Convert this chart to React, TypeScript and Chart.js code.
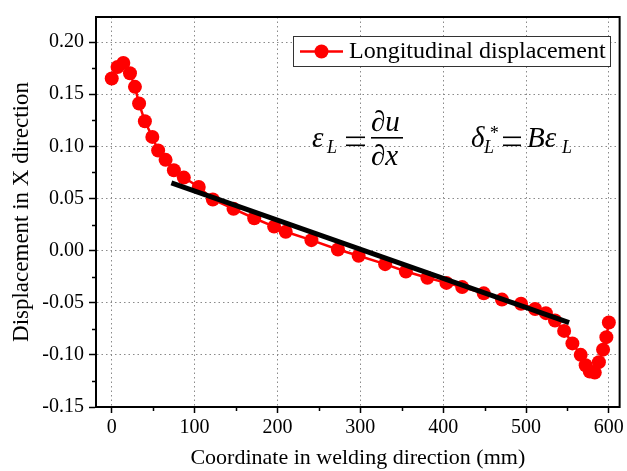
import React, { useEffect, useRef } from "react";
import { Chart, registerables } from "chart.js";

Chart.register(...registerables);

const seriesLabel = "Longitudinal displacement";
const xValues = [0, 7, 14, 22, 28, 33, 40, 49, 56, 65, 75, 87, 105, 122, 147, 172, 196, 210, 241, 273, 298, 330, 355, 381, 404, 423, 449, 471, 494, 511, 524, 535, 546, 556, 566, 572, 577, 583, 588, 593, 597, 600];
const yValues = [0.165, 0.176, 0.18, 0.17, 0.157, 0.141, 0.124, 0.109, 0.096, 0.087, 0.077, 0.07, 0.061, 0.049, 0.04, 0.031, 0.023, 0.018, 0.01, 0.001, -0.005, -0.013, -0.02, -0.026, -0.031, -0.035, -0.041, -0.047, -0.051, -0.056, -0.06, -0.067, -0.077, -0.089, -0.1, -0.11, -0.116, -0.117, -0.107, -0.095, -0.083, -0.069];
const fitX = [72, 552];
const fitY = [0.065, -0.069];
const xTicks = [0, 100, 200, 300, 400, 500, 600];
const xMinorTicks = [50, 150, 250, 350, 450, 550];
const yTicks = [-0.15, -0.1, -0.05, 0, 0.05, 0.1, 0.15, 0.2];
const yMinorTicks = [-0.125, -0.075, -0.025, 0.025, 0.075, 0.125, 0.175];

const SERIF = '"Liberation Serif", "Times New Roman", serif';

const decorPlugin = {
  id: "decor",
  afterDraw(chart: any) {
    const { ctx, chartArea: a, scales } = chart;
    const x = scales.x;
    const y = scales.y;
    ctx.save();
    // frame
    ctx.strokeStyle = "#000";
    ctx.lineWidth = 2;
    ctx.strokeRect(a.left, a.top, a.right - a.left, a.bottom - a.top);
    // minor ticks
    ctx.lineWidth = 1.5;
    ctx.beginPath();
    xMinorTicks.forEach((v) => {
      const px = Math.round(x.getPixelForValue(v)) + 0.5;
      ctx.moveTo(px, a.bottom);
      ctx.lineTo(px, a.bottom + 4);
    });
    yMinorTicks.forEach((v) => {
      const py = Math.round(y.getPixelForValue(v)) + 0.5;
      ctx.moveTo(a.left, py);
      ctx.lineTo(a.left - 4, py);
    });
    ctx.stroke();

    // legend
    const lx = a.left + 197;
    const ly = a.top + 19;
    ctx.fillStyle = "#fff";
    ctx.fillRect(lx, ly, 317, 30);
    ctx.strokeStyle = "#333";
    ctx.lineWidth = 1;
    ctx.strokeRect(lx + 0.5, ly + 0.5, 317, 30);
    ctx.strokeStyle = "#ff0000";
    ctx.lineWidth = 2.5;
    ctx.beginPath();
    ctx.moveTo(lx + 7, ly + 15.5);
    ctx.lineTo(lx + 50, ly + 15.5);
    ctx.stroke();
    ctx.fillStyle = "#ff0000";
    ctx.beginPath();
    ctx.arc(lx + 28.5, ly + 15.5, 7, 0, Math.PI * 2);
    ctx.fill();
    ctx.fillStyle = "#000";
    ctx.font = `24px ${SERIF}`;
    ctx.textBaseline = "middle";
    ctx.textAlign = "left";
    ctx.fillText(seriesLabel, lx + 56, ly + 16);

    // equations
    ctx.textBaseline = "alphabetic";
    const it = `italic 29px ${SERIF}`;
    const itSub = `italic 18px ${SERIF}`;
    const eq = (x0: number, x1: number) => {
      ctx.fillRect(x0, 136.5, x1 - x0, 1.6);
      ctx.fillRect(x0, 144.5, x1 - x0, 1.6);
    };
    ctx.font = it;
    ctx.fillText("\u03b5", 312, 147);
    ctx.font = itSub;
    ctx.fillText("L", 327, 153);
    eq(346, 365);
    ctx.font = it;
    ctx.fillText("\u2202u", 371, 131);
    ctx.fillText("\u2202x", 371, 165);
    ctx.fillRect(371, 137, 32, 1.6);

    ctx.font = it;
    ctx.fillText("\u03b4", 471, 147);
    ctx.font = itSub;
    ctx.fillText("L", 484, 153);
    ctx.fillText("*", 489, 139);
    eq(503, 521);
    ctx.font = it;
    ctx.fillText("B\u03b5", 527, 147);
    ctx.font = itSub;
    ctx.fillText("L", 562, 153);
    ctx.restore();
  },
};

export default function App() {
  const ref = useRef<HTMLCanvasElement | null>(null);
  useEffect(() => {
    document.body.style.margin = "0";
    if (!ref.current) return;
    const chart = new Chart(ref.current, {
      type: "line",
      data: {
        datasets: [
          {
            label: "fit",
            data: fitX.map((v, i) => ({ x: v, y: fitY[i] })),
            borderColor: "#000",
            borderWidth: 5,
            pointRadius: 0,
            order: 0,
          },
          {
            label: seriesLabel,
            data: xValues.map((v, i) => ({ x: v, y: yValues[i] })),
            borderColor: "#ff0000",
            backgroundColor: "#ff0000",
            borderWidth: 2.5,
            pointRadius: 7,
            pointBorderWidth: 0,
            pointBackgroundColor: "#ff0000",
            order: 1,
          },
        ],
      },
      options: {
        animation: false,
        responsive: false,
        maintainAspectRatio: false,
        layout: { padding: { top: 14, right: 6, left: 0, bottom: 0 } },
        plugins: { legend: { display: false }, tooltip: { enabled: false } },
        scales: {
          x: {
            type: "linear",
            min: -19,
            max: 613,
            afterBuildTicks: (s: any) => {
              s.ticks = xTicks.map((v) => ({ value: v }));
            },
            afterFit: (s: any) => {
              s.height = 64;
            },
            grid: {
              color: "#8a8a8a",
              lineWidth: 1,
              tickColor: "#000",
              tickWidth: 1.5,
              tickLength: 6,
            },
            border: { display: true, color: "#000", width: 2, dash: [1.5, 3] },
            ticks: {
              color: "#000",
              font: { family: SERIF, size: 20 },
              padding: 3,
              maxRotation: 0,
              callback: (v: any) => String(v),
            },
            title: {
              display: true,
              text: "Coordinate in welding direction (mm)",
              color: "#000",
              font: { family: SERIF, size: 22 },
              padding: { top: 0, bottom: 0 },
            },
          },
          y: {
            type: "linear",
            min: -0.15,
            max: 0.224,
            afterBuildTicks: (s: any) => {
              s.ticks = yTicks.map((v) => ({ value: v }));
            },
            afterFit: (s: any) => {
              s.width = 96;
            },
            grid: {
              color: "#8a8a8a",
              lineWidth: 1,
              tickColor: "#000",
              tickWidth: 1.5,
              tickLength: 7,
            },
            border: { display: true, color: "#000", width: 2, dash: [1.5, 3] },
            ticks: {
              color: "#000",
              font: { family: SERIF, size: 20 },
              padding: 5,
              callback: (v: any) => Number(v).toFixed(2),
            },
            title: {
              display: true,
              text: "Displacement in X direction",
              color: "#000",
              font: { family: SERIF, size: 23 },
              padding: { top: 8, bottom: 0 },
            },
          },
        },
      },
      plugins: [decorPlugin],
    });
    return () => chart.destroy();
  }, []);
  return (
    <div style={{ width: 627, height: 471 }}>
      <canvas ref={ref} width={627} height={471} style={{ display: "block" }} />
    </div>
  );
}
